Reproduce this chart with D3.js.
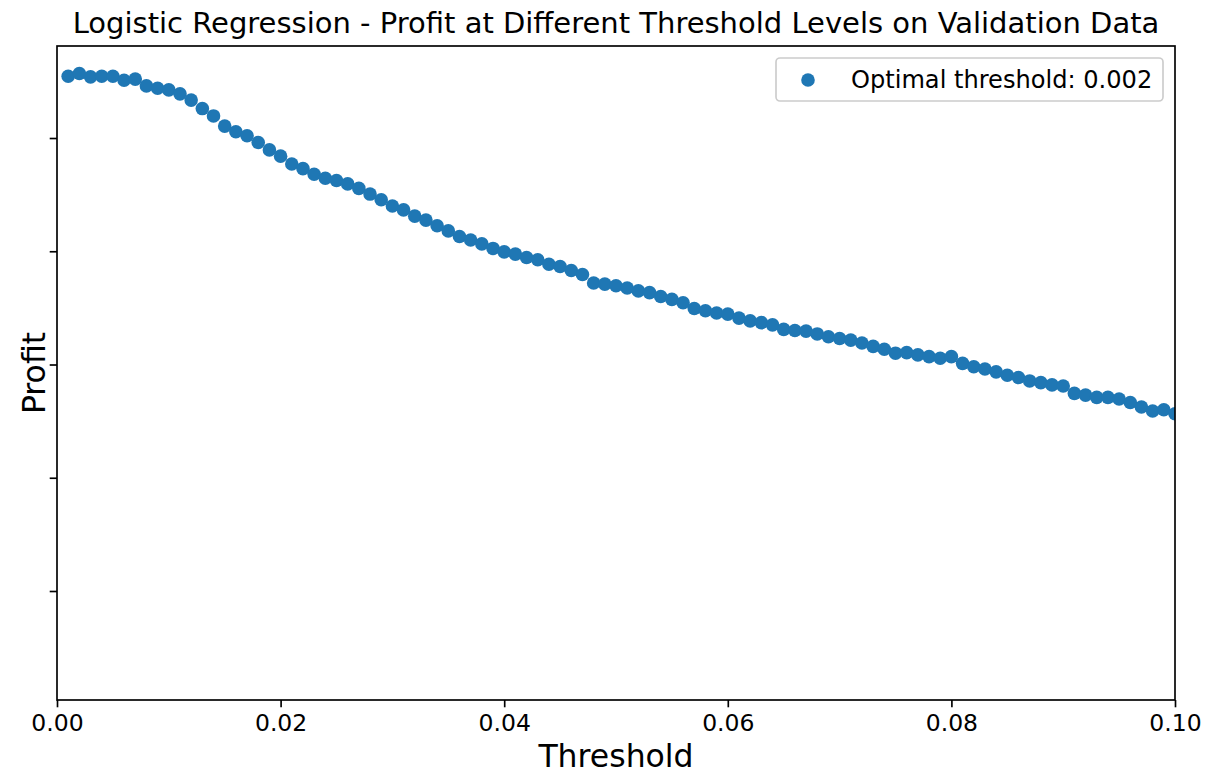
<!DOCTYPE html>
<html>
<head>
<meta charset="utf-8">
<script src="https://cdn.jsdelivr.net/npm/d3@7"></script>
<style>
  html, body { margin: 0; padding: 0; background: #fff; }
  svg text { font-family: "DejaVu Sans", sans-serif; fill: #000; }
</style>
</head>
<body>
<svg id="chart" width="1205" height="774"></svg>
<script>
// Profit on the validation set for each classification threshold
const thresholds = d3.range(1, 101).map(i => i / 1000);
const profit = [
  1109, 1114, 1108, 1109, 1109, 1102, 1104, 1092, 1088, 1085,
  1078, 1067, 1052, 1039, 1021, 1011, 1004,  992,  979,  968,
   954,  946,  936,  929,  925,  919,  911,  901,  891,  880,
   873,  862,  855,  845,  836,  826,  820,  813,  805,  799,
   795,  789,  785,  777,  773,  766,  759,  744,  742,  739,
   735,  730,  727,  720,  715,  709,  699,  695,  691,  689,
   682,  677,  674,  670,  662,  660,  659,  654,  649,  646,
   643,  638,  632,  627,  620,  621,  617,  614,  611,  614,
   602,  596,  592,  587,  581,  577,  571,  568,  564,  562,
   549,  546,  542,  542,  539,  533,  525,  518,  520,  513
];
const xTicks = [0, 0.02, 0.04, 0.06, 0.08, 0.10];
const yTicks = [200, 400, 600, 800, 1000];
const xDomain = [0, 0.10];
const yDomain = [7.5, 1162.5];

const titleText = "Logistic Regression - Profit at Different Threshold Levels on Validation Data";
const xLabel = "Threshold";
const yLabel = "Profit";

const best = d3.maxIndex(profit);
const legendText = "Optimal threshold: " + thresholds[best].toFixed(3);

const svg = d3.select("#chart");
const m = { left: 57, right: 1175, top: 46, bottom: 700 };
const pt = 150 / 72;
const markerR = 6.8;

const x = d3.scaleLinear().domain(xDomain).range([m.left, m.right]);
const y = d3.scaleLinear().domain(yDomain).range([m.bottom, m.top]);

svg.append("defs").append("clipPath").attr("id", "plot-clip")
  .append("rect")
  .attr("x", m.left).attr("y", m.top)
  .attr("width", m.right - m.left).attr("height", m.bottom - m.top);

// scatter points
svg.append("g").attr("clip-path", "url(#plot-clip)")
  .selectAll("circle")
  .data(thresholds)
  .join("circle")
  .attr("cx", d => x(d))
  .attr("cy", (d, i) => y(profit[i]))
  .attr("r", markerR)
  .attr("fill", "#1f77b4");

// axes
const tickLen = 3.5 * pt;
const xAxis = d3.axisBottom(x).tickValues(xTicks).tickFormat(d3.format(".2f"))
  .tickSize(tickLen).tickPadding(3.5 * pt);
const gx = svg.append("g").attr("transform", `translate(0,${m.bottom})`).call(xAxis);
gx.select(".domain").remove();
gx.selectAll(".tick line").attr("stroke", "#000").attr("stroke-width", 0.8 * pt);
gx.selectAll(".tick text").attr("font-size", 23.5).attr("font-family", "DejaVu Sans").attr("fill", "#000");

const yAxis = d3.axisLeft(y).tickValues(yTicks).tickFormat(() => "")
  .tickSize(tickLen);
const gy = svg.append("g").attr("transform", `translate(${m.left},0)`).call(yAxis);
gy.select(".domain").remove();
gy.selectAll(".tick line").attr("stroke", "#000").attr("stroke-width", 0.8 * pt);

// spines
svg.append("rect")
  .attr("x", m.left).attr("y", m.top)
  .attr("width", m.right - m.left).attr("height", m.bottom - m.top)
  .attr("fill", "none").attr("stroke", "#000").attr("stroke-width", 0.8 * pt);

// title and axis labels
svg.append("text")
  .attr("x", (m.left + m.right) / 2).attr("y", 33)
  .attr("text-anchor", "middle").attr("font-size", 29)
  .text(titleText);

svg.append("text")
  .attr("x", (m.left + m.right) / 2).attr("y", 767)
  .attr("text-anchor", "middle").attr("font-size", 31.5)
  .text(xLabel);

svg.append("text")
  .attr("transform", `translate(45,${(m.top + m.bottom) / 2}) rotate(-90)`)
  .attr("text-anchor", "middle").attr("font-size", 31.5)
  .text(yLabel);

// legend
const lg = svg.append("g");
lg.append("rect")
  .attr("x", 776).attr("y", 58).attr("width", 387).attr("height", 43)
  .attr("rx", 4).attr("ry", 4)
  .attr("fill", "#fff").attr("fill-opacity", 0.8)
  .attr("stroke", "#cccccc").attr("stroke-width", 0.8 * pt);
lg.append("circle").attr("cx", 808).attr("cy", 80).attr("r", markerR).attr("fill", "#1f77b4");
lg.append("text").attr("x", 851).attr("y", 88).attr("font-size", 24.1).text(legendText);
</script>
</body>
</html>
